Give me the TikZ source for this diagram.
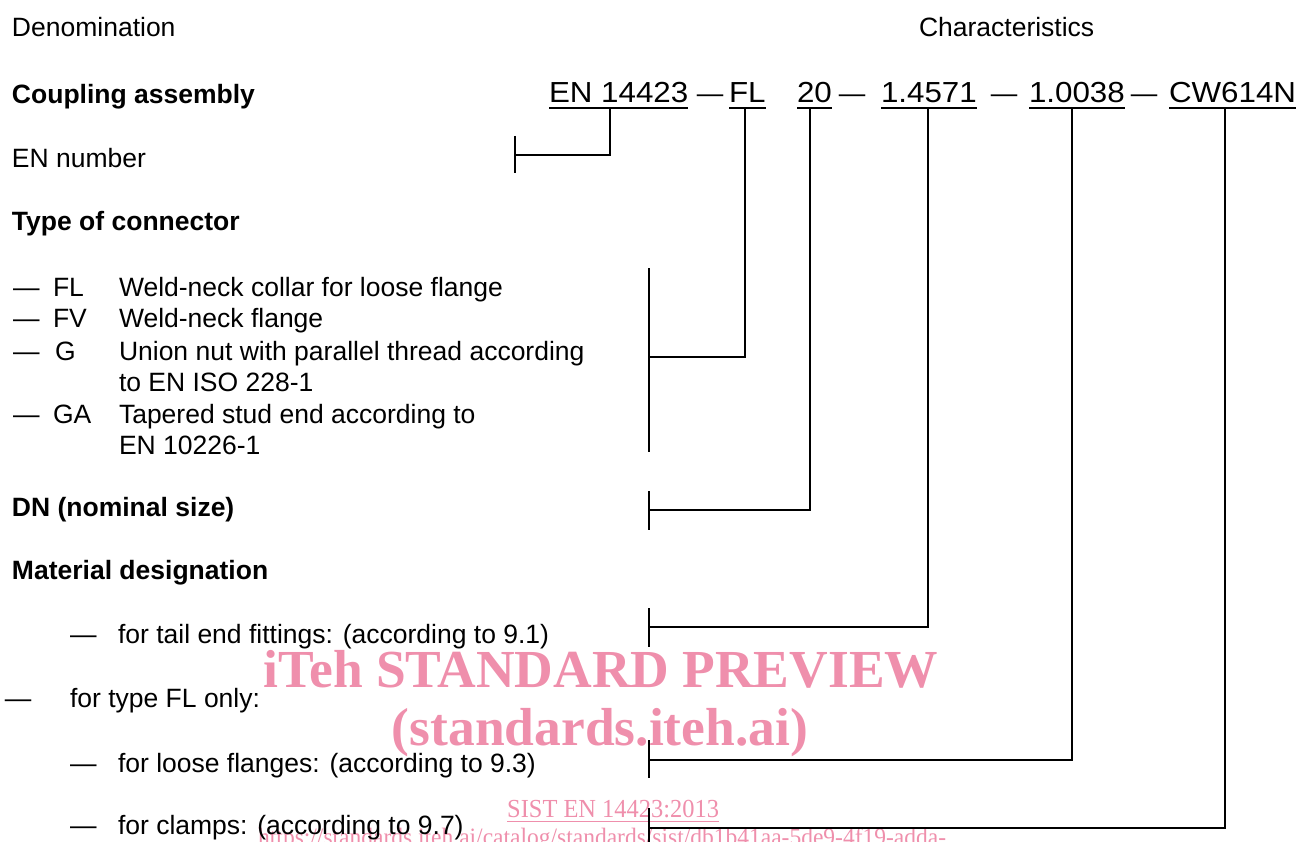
\documentclass[tikz,border=0pt]{standalone}
\usepackage{fontspec}
\setmainfont{Liberation Sans}
\newfontfamily\hdrfont[FakeStretch=1.08]{Liberation Sans}
\newfontfamily\wmfont{Liberation Serif}
\newfontfamily\wmnarrow[FakeStretch=0.94]{Liberation Serif}
\definecolor{wmpink}{RGB}{239,143,172}
\begin{document}
\begin{tikzpicture}[x=1pt,y=-1pt,
  txt/.style={anchor=base west,inner sep=0pt,outer sep=0pt,font=\fontsize{26.5}{31}\selectfont},
  boldtxt/.style={txt,font=\fontsize{26.5}{31}\selectfont\bfseries},
  code/.style={anchor=base west,inner sep=0pt,outer sep=0pt,font=\hdrfont\fontsize{29}{34}\selectfont,text depth=5.5pt},
  hdash/.style={anchor=base,inner sep=0pt,outer sep=0pt,font=\fontsize{26.5}{31}\selectfont},
  wmbig/.style={anchor=base,inner sep=0pt,text=wmpink,font=\wmfont\fontsize{53.5}{60}\selectfont\bfseries},
  wmsmall/.style={anchor=base west,inner sep=0pt,text=wmpink,font=\wmnarrow\fontsize{26}{30}\selectfont},
  conn/.style={line width=2pt},
]
\useasboundingbox (0,0) rectangle (1300,842);
\clip (0,0) rectangle (1300,842);

% watermark
\node[wmbig] (wm1) at (601,687) {iTeh STANDARD PREVIEW};
\node[wmbig] (wm2) at (600,745) {(standards.iteh.ai)};
\node[wmsmall,text depth=4pt] (wm3) at (507,817) {SIST EN 14423:2013};
\draw[wmpink,line width=1.2pt] (wm3.south west) -- (wm3.south east);
\node[wmsmall,font=\wmnarrow\fontsize{25}{30}\selectfont] (wm4) at (258,845) {https://standards.iteh.ai/catalog/standards/sist/db1b41aa-5de9-4f19-adda-};

% column headings
\node[txt] (den) at (12,37) {Denomination};
\node[txt] (chr) at (919,37) {Characteristics};

% designation codes
\node[code] (en) at (549,102.5) {EN 14423};
\node[hdash] (d1) at (710,102.5) {—};
\node[code] (fl) at (729,102.5) {FL};
\node[code] (dn) at (797,102.5) {20};
\node[hdash] (d2) at (852,102.5) {—};
\node[code] (m1) at (881,102.5) {1.4571};
\node[hdash] (d3) at (1004,102.5) {—};
\node[code] (m2) at (1029,102.5) {1.0038};
\node[hdash] (d4) at (1144,102.5) {—};
\node[code] (cw) at (1169,102.5) {CW614N};
\foreach \n in {en,fl,dn,m1,m2,cw}
  \draw[conn] (\n.south west) -- (\n.south east);

% left column
\node[boldtxt] (ca) at (12,104) {Coupling assembly};
\node[txt] (enn) at (12,168) {EN number};
\node[boldtxt] (toc) at (12,231) {Type of connector};

\node[txt] (l1d) at (13,296) {—};
\node[txt] (l1c) at (53,296) {FL};
\node[txt] (l1t) at (119,296) {Weld-neck collar for loose flange};
\node[txt] (l2d) at (13,327) {—};
\node[txt] (l2c) at (53,327) {FV};
\node[txt] (l2t) at (119,327) {Weld-neck flange};
\node[txt] (l3d) at (13,360) {—};
\node[txt] (l3c) at (55,360) {G};
\node[txt] (l3t) at (119,360) {Union nut with parallel thread according};
\node[txt] (l3u) at (119,391) {to EN ISO 228-1};
\node[txt] (l4d) at (13,423) {—};
\node[txt] (l4c) at (53,423) {GA};
\node[txt] (l4t) at (119,423) {Tapered stud end according to};
\node[txt] (l4u) at (119,454) {EN 10226-1};

\node[boldtxt] (dnl) at (12,516) {DN (nominal size)};
\node[boldtxt] (mat) at (12,579) {Material designation};

\node[txt] (s1d) at (70,643) {—};
\node[txt] (s1t) at (118,643) {for tail end fittings: (according to 9.1)};
\node[txt] (s2d) at (5,707) {—};
\node[txt] (s2t) at (70,707) {for type FL only:};
\node[txt] (s3d) at (70,772) {—};
\node[txt] (s3t) at (118,772) {for loose flanges: (according to 9.3)};
\node[txt] (s4d) at (70,834) {—};
\node[txt] (s4t) at (118,834) {for clamps: (according to 9.7)};

% connector end points
\coordinate (k1) at (515,155);
\coordinate (v1) at (610,155);
\coordinate (k2) at (649,357);
\coordinate (v2) at (745,357);
\coordinate (k3) at (649,510);
\coordinate (v3) at (810,510);
\coordinate (k4) at (649,627);
\coordinate (v4) at (928,627);
\coordinate (k5) at (649,760);
\coordinate (v5) at (1072,760);
\coordinate (k6) at (649,828);
\coordinate (v6) at (1225,828);

% connectors
\draw[conn] (en.south -| v1) -- (v1) -- (k1);
\draw[conn] (515,136) -- (515,173);
\draw[conn] (fl.south -| v2) -- (v2) -- (k2);
\draw[conn] (649,268) -- (649,452);
\draw[conn] (dn.south -| v3) -- (v3) -- (k3);
\draw[conn] (649,491) -- (649,530);
\draw[conn] (m1.south -| v4) -- (v4) -- (k4);
\draw[conn] (649,608) -- (649,647);
\draw[conn] (m2.south -| v5) -- (v5) -- (k5);
\draw[conn] (649,740) -- (649,778);
\draw[conn] (cw.south -| v6) -- (v6) -- (k6);
\draw[conn] (649,808) -- (649,850);
\end{tikzpicture}
\end{document}
